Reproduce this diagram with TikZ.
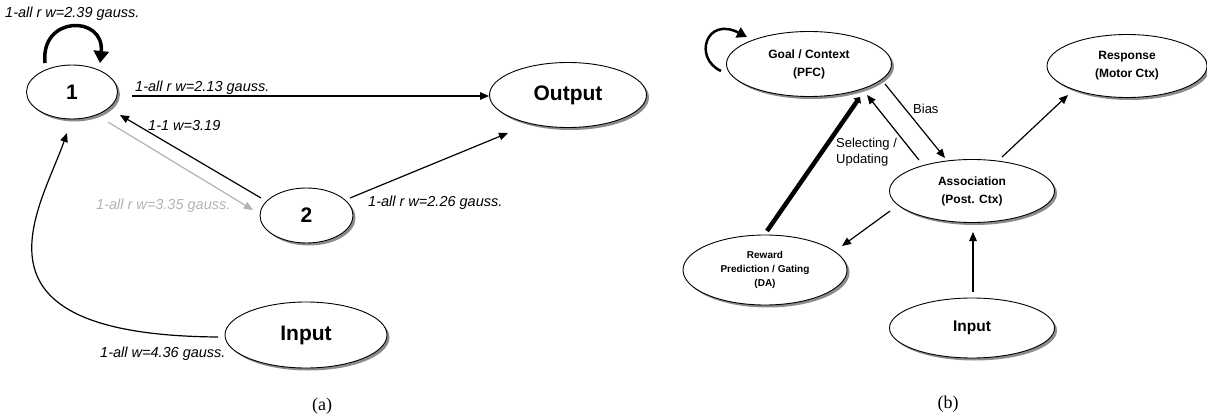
\documentclass[tikz,border=0pt]{standalone}
\usepackage{fontspec}
\setmainfont{Liberation Serif}
\setsansfont{Liberation Sans}
\usetikzlibrary{shapes.geometric,arrows.meta,shadows}
\tikzset{
  ell/.style={ellipse, draw, line width=0.9pt, fill=white, inner sep=0pt, align=center,
    drop shadow={shadow xshift=2.5pt, shadow yshift=-2.5pt, fill=black!45, opacity=1}},
  bigtxt/.style={font=\sffamily\bfseries\fontsize{21}{24}\selectfont},
  midtxt/.style={font=\sffamily\bfseries\fontsize{12}{18}\selectfont},
  smalltxt/.style={font=\sffamily\bfseries\fontsize{10}{14}\selectfont},
  lab/.style={font=\sffamily\itshape\fontsize{14.5}{17}\selectfont, anchor=base west, inner sep=0pt},
  rlab/.style={font=\sffamily\fontsize{13}{16}\selectfont, anchor=base west, inner sep=0pt, align=left},
  captxt/.style={font=\rmfamily\fontsize{18}{20}\selectfont, anchor=base, inner sep=0pt},
  arr/.style={-{Triangle[length=9pt,width=7.5pt]}, line width=1.2pt},
  garr/.style={-{Triangle[length=9pt,width=7.5pt]}, line width=1.2pt, draw=black!30, color=black!30},
}
\begin{document}
\begin{tikzpicture}[x=1pt,y=-1pt]
\useasboundingbox (0,0) rectangle (1207,417);
% ---------- (a) ----------
\node[ell, bigtxt, minimum width=91, minimum height=54] (n1) at (72,92) {1};
\node[ell, bigtxt, minimum width=157, minimum height=65] (out) at (568,95) {Output};
\node[ell, bigtxt, minimum width=93, minimum height=55] (n2) at (306.5,215.5) {2};
\node[ell, bigtxt, minimum width=162, minimum height=66] (inA) at (306,335) {Input};

% self loop on 1
\draw[line width=3.5pt, -{Triangle[length=12pt,width=15pt]}]
  ([shift={(-27,-29)}]n1.center) .. controls (40,15) and (105,15) .. ([shift={(28,-29)}]n1.center);
% 1 -> Output
\draw[arr] ([shift={(60,4)}]n1.center) -- ([shift={(-79,1)}]out.center);
% 2 -> 1
\draw[arr] ([shift={(-45.5,-17.5)}]n2.center) -- ([shift={(48,23)}]n1.center);
% 1 -> 2 (gray)
\draw[garr] ([shift={(36,30)}]n1.center) -- ([shift={(-53.5,-5.5)}]n2.center);
% 2 -> Output
\draw[arr] ([shift={(43.5,-17.5)}]n2.center) -- ([shift={(-60,38)}]out.center);
% Input -> 1
\draw[arr] ([shift={(-88,2)}]inA.center) .. controls (-45,335) and (40,210) .. ([shift={(-5,41)}]n1.center);

\node[lab] (la1) at (5,18) {1-all r w=2.39 gauss.};
\node[lab] (la2) at (135,92) {1-all r w=2.13 gauss.};
\node[lab] (la3) at (148,131) {1-1 w=3.19};
\node[lab, color=black!30] (la4) at (96,209) {1-all r w=3.35 gauss.};
\node[lab] (la5) at (368,206) {1-all r w=2.26 gauss.};
\node[lab] (la6) at (100,357) {1-all w=4.36 gauss.};
\node[captxt] (capa) at (322,410) {(a)};

% ---------- (b) ----------
\node[ell, midtxt, minimum width=165, minimum height=65] (goal) at (809,64) {Goal / Context\\(PFC)};
\node[ell, midtxt, minimum width=160, minimum height=63] (resp) at (1127,66) {Response\\(Motor Ctx)};
\node[ell, midtxt, minimum width=165, minimum height=63] (assoc) at (972,191) {Association\\(Post. Ctx)};
\node[ell, smalltxt, minimum width=164, minimum height=70] (rew) at (765,270) {Reward\\Prediction / Gating\\(DA)};
\node[ell, font=\sffamily\bfseries\fontsize{15.5}{18}\selectfont, minimum width=165, minimum height=60] (inB) at (972,328) {Input};

% self loop on goal
\draw[line width=2.5pt, -{Triangle[length=10pt,width=11pt]}]
  ([shift={(-88,7)}]goal.center) .. controls (693,58) and (706,16) .. ([shift={(-62,-27)}]goal.center);
% Reward -> Goal (thick)
\draw[line width=4.5pt, -{Triangle[length=5pt,width=9pt]}]
  ([shift={(2,-39)}]rew.center) -- ([shift={(51,33)}]goal.center);
% Assoc -> Goal
\draw[arr] ([shift={(-53,-31)}]assoc.center) -- ([shift={(58,31)}]goal.center);
% Goal -> Assoc (Bias)
\draw[arr] ([shift={(76,20)}]goal.center) -- ([shift={(-27,-33)}]assoc.center);
% Assoc -> Response
\draw[arr] ([shift={(30,-34)}]assoc.center) -- ([shift={(-59,29)}]resp.center);
% Assoc -> Reward
\draw[arr] ([shift={(-82,20)}]assoc.center) -- ([shift={(77,-24)}]rew.center);
% Input -> Assoc
\draw[arr] ([shift={(1,-36)}]inB.center) -- ([shift={(1,41)}]assoc.center);

\node[rlab] (bias) at (913,114) {Bias};
\node[rlab] (sel) at (836,163) {Selecting /\\Updating};
\node[captxt] (capb) at (948,408) {(b)};
\end{tikzpicture}
\end{document}
